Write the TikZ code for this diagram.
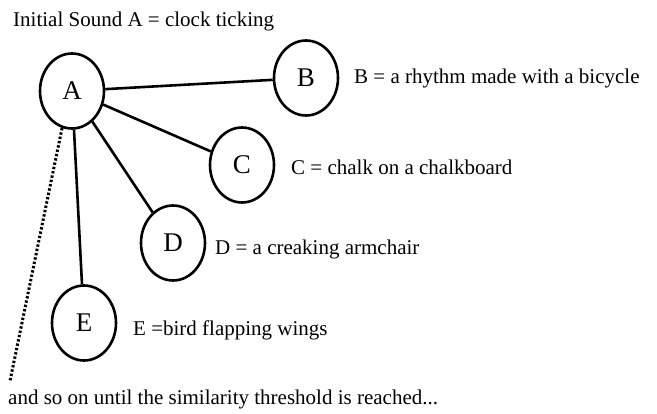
\documentclass[tikz,border=0pt]{standalone}
\usepackage{fontspec}
\setmainfont{Liberation Serif}
\usetikzlibrary{shapes.geometric}
\begin{document}
\begin{tikzpicture}[x=1pt,y=-1pt,
  sound/.style={draw,ellipse,line width=2.6pt,minimum width=64pt,minimum height=75pt,
    inner sep=0pt,font=\fontsize{27}{30}\selectfont},
  link/.style={line width=2.6pt},
  trail/.style={line width=3pt,dash pattern=on 2.4pt off 2pt},
  caption/.style={anchor=base west,inner sep=0pt,font=\fontsize{21}{25}\selectfont}]
\useasboundingbox (0,0) rectangle (657,414);

% sound nodes
\node[sound] (A) at (72,91) {A};
\node[sound] (B) at (306,78) {B};
\node[sound] (C) at (242,165) {C};
\node[sound] (D) at (173,243) {D};
\node[sound] (E) at (84,323) {E};

% links from the initial sound
\draw[link] (A) -- (B);
\draw[link] (A) -- (C);
\draw[link] (A) -- (D);
\draw[link] (A) -- (E);

% dotted continuation
\coordinate (more) at (10,381);
\draw[trail] (A.255) -- (more);

% captions
\node[caption] (tA) at (13,27) {Initial Sound A = clock ticking};
\node[caption] (tB) at (354,84) {B = a rhythm made with a bicycle};
\node[caption] (tC) at (291,175) {C = chalk on a chalkboard};
\node[caption] (tD) at (215,255) {D = a creaking armchair};
\node[caption] (tE) at (133,336) {E =bird flapping wings};
\node[caption] (tEnd) at (8,405) {and so on until the similarity threshold is reached...};
\end{tikzpicture}
\end{document}
